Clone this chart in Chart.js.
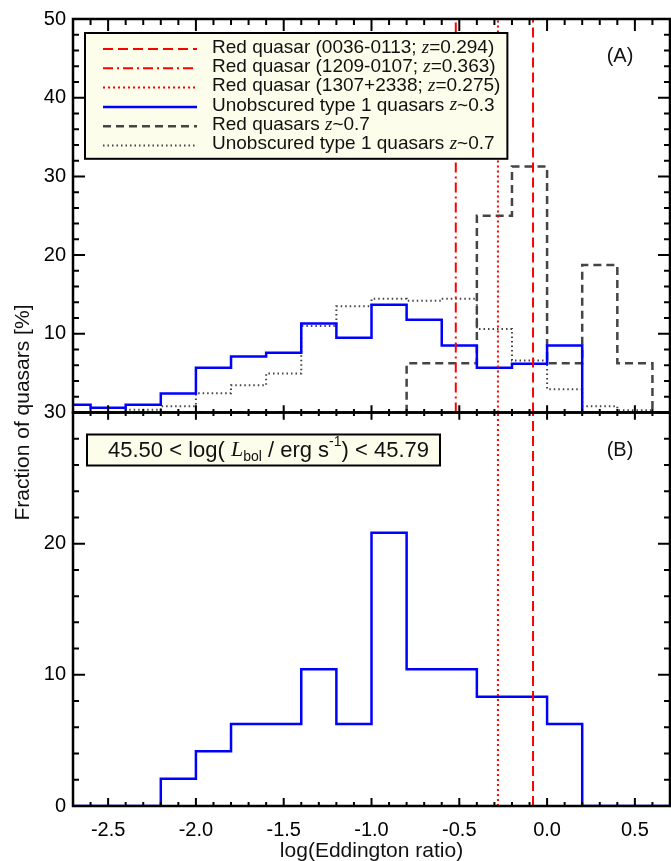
<!DOCTYPE html>
<html>
<head>
<meta charset="utf-8">
<script src="https://cdn.jsdelivr.net/npm/chart.js@4.4.0/dist/chart.umd.min.js"></script>
<style>
  html, body { margin: 0; padding: 0; background: #fff; }
</style>
</head>
<body>
<canvas id="chart" width="671" height="861"></canvas>
<script>
// bin edges of the Eddington ratio histograms (0.2 dex bins)
const binEdges = [-2.8, -2.6, -2.4, -2.2, -2.0, -1.8, -1.6, -1.4, -1.2, -1.0, -0.8, -0.6, -0.4, -0.2, 0.0, 0.2, 0.4, 0.6, 0.8];

// panel A, fraction of quasars [%] per bin
const type1Low  = [1.0, 0.6, 1.0, 2.4, 5.7, 7.1, 7.6, 11.3, 9.5, 13.7, 11.8, 8.5, 5.7, 6.2, 8.5, 0, 0, 0];
const redHigh   = [0, 0, 0, 0, 0, 0, 0, 0, 0, 0, 6.25, 6.25, 25.0, 31.25, 6.25, 18.75, 6.25, 0];
const type1High = [0, 0, 0.35, 0.8, 2.45, 3.45, 4.95, 11.0, 13.5, 14.45, 14.2, 14.45, 10.6, 6.6, 2.95, 0.8, 0.3, 0];
// panel B, same luminosity bin as the red quasars
const type1Bin  = [0, 0, 0, 2.08, 4.17, 6.25, 6.25, 10.42, 6.25, 20.83, 10.42, 10.42, 8.33, 8.33, 6.25, 0, 0, 0];

// the three red quasars
const redNames = ['0036-0113', '1209-0107', '1307+2338'];
const redZ = ['0.294', '0.363', '0.275'];
const redEdd = [-0.08, -0.52, -0.28];
const redInB = [true, false, true];
const redDash = [[10, 5], [10, 4, 2, 4], [2, 3]];

const xTicks = [-2.5, -2.0, -1.5, -1.0, -0.5, 0.0, 0.5];
const yTicksA = [10, 20, 30, 40, 50];
const yTicksB = [0, 10, 20, 30];

const SANS = '"Liberation Sans", Arial, Helvetica, sans-serif';
const SERIF = '"Liberation Serif", "Times New Roman", serif';

// step outline: each bin holds its value up to the next edge, then drops to 0
function hist(vals) {
  const pts = vals.map((v, i) => ({ x: binEdges[i], y: v }));
  pts.push({ x: binEdges[binEdges.length - 1], y: 0 });
  return pts;
}

function vline(x, top) {
  return [{ x: x, y: 0 }, { x: x, y: top }];
}

const datasets = [];
redEdd.forEach((e, i) => {
  datasets.push({
    label: [['Red quasar (' + redNames[i] + '; ', 'n'], ['z', 'i'], ['=' + redZ[i] + ')', 'n']],
    data: vline(e, 50), yAxisID: 'yA',
    borderColor: '#ff0000', borderWidth: 2, borderDash: redDash[i], inLegend: true
  });
  if (redInB[i]) {
    datasets.push({
      data: vline(e, 30), yAxisID: 'yB',
      borderColor: '#ff0000', borderWidth: 2, borderDash: redDash[i]
    });
  }
});
datasets.push({
  label: [['Unobscured type 1 quasars ', 'n'], ['z', 'i'], ['~0.3', 'n']],
  data: hist(type1Low), yAxisID: 'yA', stepped: true,
  borderColor: '#0000ff', borderWidth: 2.5, inLegend: true
});
datasets.push({
  label: [['Red quasars ', 'n'], ['z', 'i'], ['~0.7', 'n']],
  data: hist(redHigh), yAxisID: 'yA', stepped: true,
  borderColor: '#444444', borderWidth: 2.5, borderDash: [8, 5], inLegend: true
});
datasets.push({
  label: [['Unobscured type 1 quasars ', 'n'], ['z', 'i'], ['~0.7', 'n']],
  data: hist(type1High), yAxisID: 'yA', stepped: true,
  borderColor: '#444444', borderWidth: 2, borderDash: [1.5, 3], inLegend: true
});
datasets.push({
  data: hist(type1Bin), yAxisID: 'yB', stepped: true,
  borderColor: '#0000ff', borderWidth: 2.5
});

function fontFor(style, size) {
  if (style === 'i') return 'italic ' + size + 'px ' + SERIF;
  if (style === 'sub' || style === 'sup') return Math.round(size * 0.62) + 'px ' + SANS;
  return size + 'px ' + SANS;
}

// mixed text (italic symbols, sub/superscripts), returns the width
function drawRich(ctx, parts, x, y, size, draw) {
  let cx = x;
  parts.forEach(p => {
    ctx.font = fontFor(p[1], size);
    let dy = 0;
    if (p[1] === 'sub') dy = size * 0.28;
    if (p[1] === 'sup') dy = -size * 0.36;
    if (draw) ctx.fillText(p[0], cx, y + dy);
    cx += ctx.measureText(p[0]).width;
  });
  return cx - x;
}

const framePlugin = {
  id: 'frame',
  afterDatasetsDraw(chart) {
    const ctx = chart.ctx;
    const area = chart.chartArea;
    const x = chart.scales.x;
    const panels = [chart.scales.yA, chart.scales.yB];
    ctx.save();
    ctx.strokeStyle = '#000';
    ctx.setLineDash([]);

    // ticks, pointing inward on all four sides of each panel
    ctx.lineWidth = 2;
    panels.forEach((ys, pi) => {
      const xLen = pi === 0 ? [12, 6] : [8, 4];
      ctx.beginPath();
      for (let k = -27; k <= 7; k++) {
        const px = x.getPixelForValue(k / 10);
        const len = k % 5 === 0 ? xLen[0] : xLen[1];
        const lenTop = pi === 0 ? len : len * 0.9;
        ctx.moveTo(px, ys.top); ctx.lineTo(px, ys.top + lenTop);
        ctx.moveTo(px, ys.bottom); ctx.lineTo(px, ys.bottom - (pi === 0 ? len * 0.6 : len));
      }
      for (let v = ys.min; v <= ys.max; v += 2) {
        const py = ys.getPixelForValue(v);
        const len = v % 10 === 0 ? 12 : 6;
        ctx.moveTo(area.left, py); ctx.lineTo(area.left + len, py);
        ctx.moveTo(area.right, py); ctx.lineTo(area.right - len, py);
      }
      ctx.stroke();
    });

    // panel frames
    ctx.lineWidth = 2.5;
    panels.forEach(ys => ctx.strokeRect(area.left, ys.top, area.right - area.left, ys.bottom - ys.top));

    ctx.fillStyle = '#000';
    ctx.textBaseline = 'middle';

    // legend of panel A
    const items = chart.data.datasets.filter(d => d.inLegend);
    const lx = 85, ly = 33, rowH = 19.3, textX = 212, size = 19;
    let maxW = 0;
    items.forEach(d => { maxW = Math.max(maxW, drawRich(ctx, d.label, textX, 0, size, false)); });
    ctx.fillStyle = '#fdfdec';
    ctx.fillRect(lx, ly, textX + maxW + 7 - lx, items.length * rowH + 10);
    ctx.lineWidth = 2;
    ctx.strokeStyle = '#000';
    ctx.strokeRect(lx, ly, textX + maxW + 7 - lx, items.length * rowH + 10);
    items.forEach((d, i) => {
      const ry = ly + 14.5 + i * rowH;
      ctx.strokeStyle = d.borderColor;
      ctx.lineWidth = d.borderWidth;
      ctx.setLineDash(d.borderDash || []);
      ctx.beginPath();
      ctx.moveTo(103, ry + 1.5); ctx.lineTo(197, ry + 1.5);
      ctx.stroke();
      ctx.setLineDash([]);
      ctx.fillStyle = '#111';
      drawRich(ctx, d.label, textX, ry, size, true);
    });

    // luminosity bin of panel B
    const bParts = [['45.50 < log( ', 'n'], ['L', 'i'], ['bol', 'sub'], [' / erg s', 'n'], ['-1', 'sup'], [') < 45.79', 'n']];
    const bSize = 22;
    const bw = drawRich(ctx, bParts, 0, 0, bSize, false);
    const by = chart.scales.yB.top + 22;
    ctx.fillStyle = '#fdfdec';
    ctx.fillRect(87, by, 21 + bw + 11, 31);
    ctx.strokeStyle = '#000';
    ctx.lineWidth = 2;
    ctx.strokeRect(87, by, 21 + bw + 11, 31);
    ctx.fillStyle = '#111';
    drawRich(ctx, bParts, 108, by + 16, bSize, true);

    // panel labels
    ctx.font = '20px ' + SANS;
    ctx.textAlign = 'center';
    ctx.fillText('(A)', 620, chart.scales.yA.top + 37);
    ctx.fillText('(B)', 620, chart.scales.yB.top + 38);

    // axis titles
    ctx.font = '21px ' + SANS;
    ctx.fillText('log(Eddington ratio)', (area.left + area.right) / 2, 851);
    ctx.translate(23, (area.top + area.bottom) / 2);
    ctx.rotate(-Math.PI / 2);
    ctx.fillText('Fraction of quasars [%]', 0, 0);
    ctx.restore();
  }
};

const tickFont = { family: SANS, size: 20 };

function yScale(min, max, ticks, w) {
  return {
    type: 'linear', position: 'left', stack: 'panels', stackWeight: 1, weight: w,
    min: min, max: max,
    grid: { display: false, drawTicks: false },
    border: { display: false },
    afterBuildTicks: s => { s.ticks = ticks.map(v => ({ value: v })); },
    afterFit: s => { s.width = 73; },
    ticks: { font: tickFont, color: '#000', padding: 7, callback: v => String(v) }
  };
}

new Chart(document.getElementById('chart'), {
  type: 'line',
  data: { datasets: datasets },
  options: {
    responsive: false,
    animation: false,
    layout: { padding: { top: 13, right: 1, left: 0, bottom: 0 } },
    plugins: { legend: { display: false }, tooltip: { enabled: false } },
    elements: { point: { radius: 0 }, line: { tension: 0 } },
    scales: {
      x: {
        type: 'linear', min: -2.7, max: 0.7,
        grid: { display: false, drawTicks: false },
        border: { display: false },
        afterBuildTicks: s => { s.ticks = xTicks.map(v => ({ value: v })); },
        afterFit: s => { s.height = 55; },
        ticks: { font: tickFont, color: '#000', padding: 12, maxRotation: 0, autoSkip: false, callback: v => v.toFixed(1) }
      },
      yB: yScale(0, 30, yTicksB, 1),
      yA: yScale(0, 50, yTicksA, 2)
    }
  },
  plugins: [framePlugin]
});
</script>
</body>
</html>
